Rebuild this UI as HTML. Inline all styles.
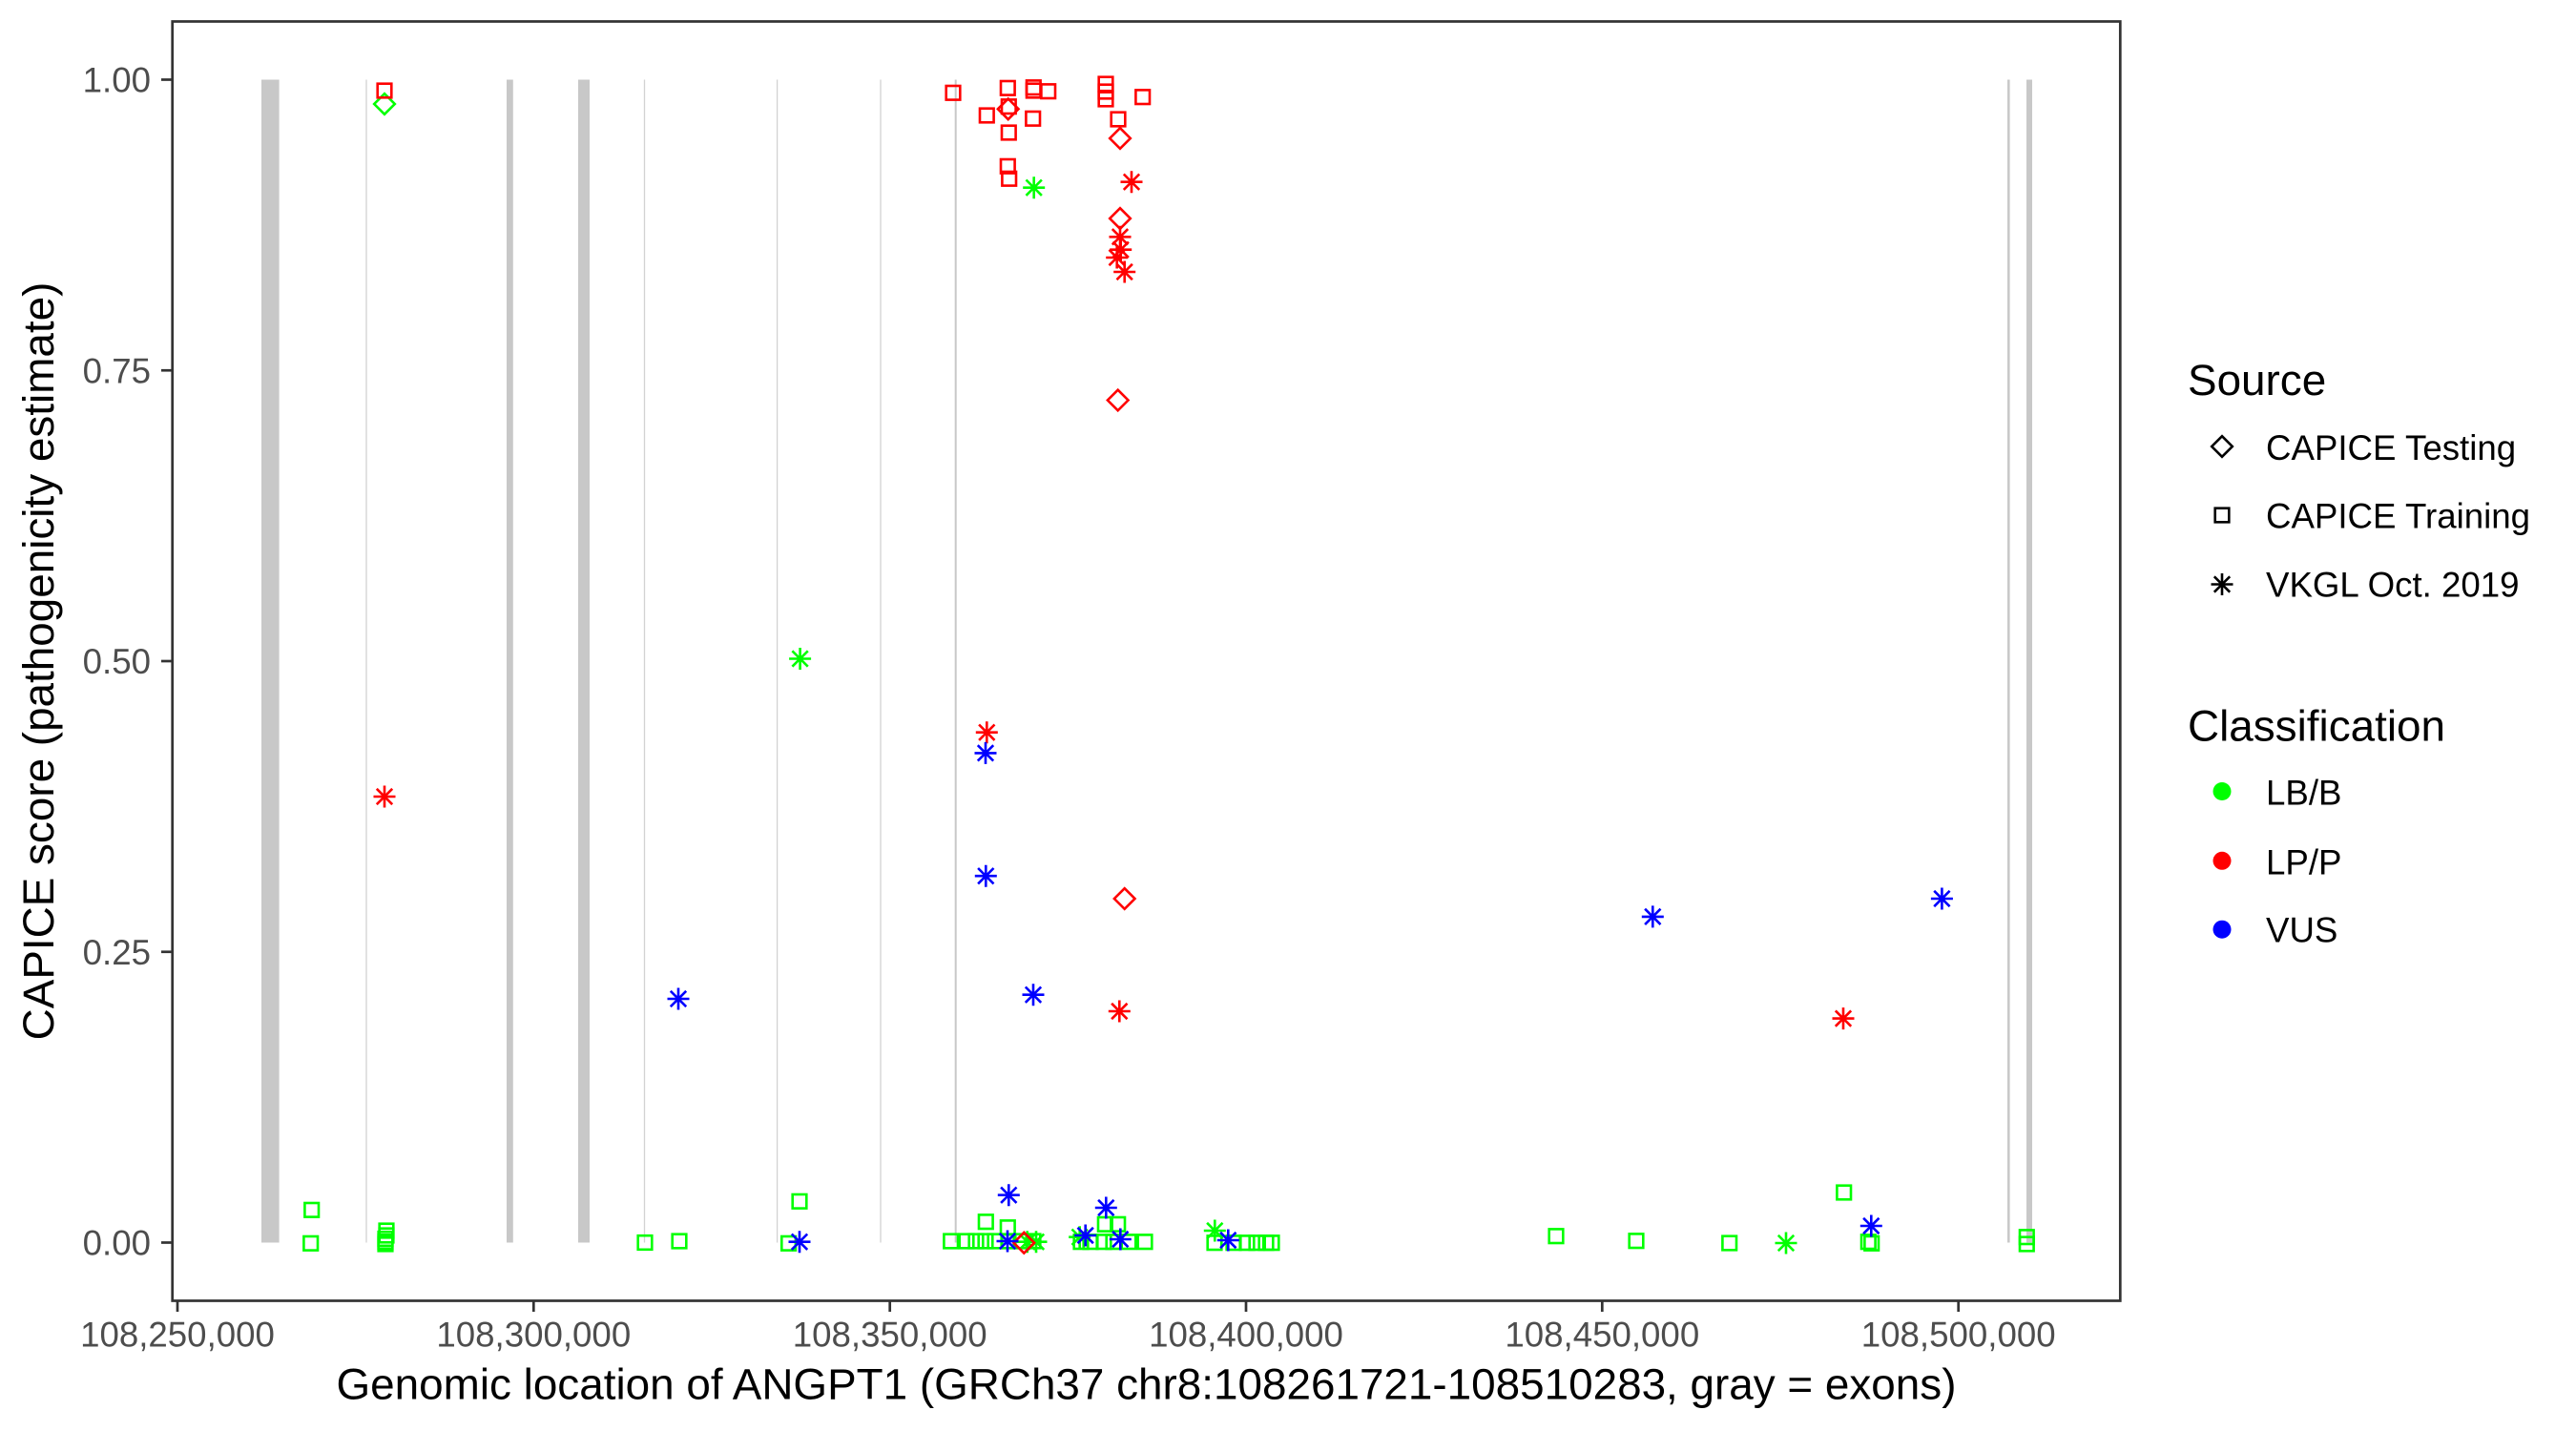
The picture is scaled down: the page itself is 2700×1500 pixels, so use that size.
<!DOCTYPE html>
<html><head><meta charset="utf-8"><style>
html,body{margin:0;padding:0;background:#fff;}
svg{display:block;font-family:"Liberation Sans",Arial,sans-serif;}
</style></head><body>
<svg width="2700" height="1500" viewBox="0 0 2700 1500" xmlns="http://www.w3.org/2000/svg">
<defs>
<rect id="sq" x="-7.3" y="-7.3" width="14.6" height="14.6"/>
<path id="di" d="M0,-10.8L10.8,0L0,10.8L-10.8,0Z"/>
<path id="as" d="M-11.5,0H11.5M0,-11.5V11.5M-8.2,-8.2L8.2,8.2M-8.2,8.2L8.2,-8.2"/>
</defs>
<rect width="2700" height="1500" fill="#fff"/>
<!-- exons -->
<g fill="#C8C8C8">
<rect x="274" y="83.5" width="18.6" height="1219"/>
<rect x="531" y="83.5" width="6.8" height="1219"/>
<rect x="606" y="83.5" width="12" height="1219"/>
<rect x="2124" y="83.5" width="6" height="1219"/>
</g>
<g stroke="#D2D2D2" stroke-width="1.3">
<line x1="384" y1="83.5" x2="384" y2="1302.5"/>
<line x1="675.5" y1="83.5" x2="675.5" y2="1302.5"/>
<line x1="814.6" y1="83.5" x2="814.6" y2="1302.5"/>
<line x1="923" y1="83.5" x2="923" y2="1302.5"/>
</g>
<line x1="1001.7" y1="83.5" x2="1001.7" y2="1302.5" stroke="#C8C8C8" stroke-width="2"/>
<line x1="2105.3" y1="83.5" x2="2105.3" y2="1302.5" stroke="#C9C9C9" stroke-width="2.6"/>

<!-- green points -->
<g fill="none" stroke="#00FF00" stroke-width="2.6">
<use href="#sq" x="326.7" y="1268.3"/><use href="#sq" x="325.7" y="1303.3"/>
<use href="#sq" x="405" y="1290"/><use href="#sq" x="405" y="1295"/><use href="#sq" x="404" y="1298.5"/><use href="#sq" x="404" y="1301.5"/><use href="#sq" x="404" y="1304"/>
<use href="#sq" x="676" y="1302.5"/><use href="#sq" x="712" y="1301"/>
<use href="#sq" x="838" y="1259.3"/><use href="#sq" x="826.6" y="1303.3"/>
<use href="#sq" x="1033.3" y="1280.7"/><use href="#sq" x="1056.3" y="1286.7"/>
<use href="#sq" x="996.7" y="1301"/><use href="#sq" x="1013" y="1301"/><use href="#sq" x="1023" y="1301"/><use href="#sq" x="1033" y="1301"/><use href="#sq" x="1043" y="1301"/><use href="#sq" x="1057" y="1301"/><use href="#sq" x="1070" y="1301"/><use href="#sq" x="1083" y="1301"/>
<use href="#sq" x="1158.3" y="1283.3"/><use href="#sq" x="1171.7" y="1283.3"/>
<use href="#sq" x="1133" y="1301.7"/><use href="#sq" x="1143" y="1301.7"/><use href="#sq" x="1157" y="1301.7"/><use href="#sq" x="1167" y="1301.7"/><use href="#sq" x="1183" y="1301.7"/><use href="#sq" x="1200" y="1301.7"/>
<use href="#sq" x="1273" y="1302.7"/><use href="#sq" x="1293" y="1302.7"/><use href="#sq" x="1307" y="1302.7"/><use href="#sq" x="1317" y="1302.7"/><use href="#sq" x="1327" y="1302.7"/><use href="#sq" x="1333" y="1302.7"/>
<use href="#sq" x="1631" y="1295.7"/><use href="#sq" x="1715" y="1300.7"/><use href="#sq" x="1812.7" y="1303"/><use href="#sq" x="1932.7" y="1250"/>
<use href="#sq" x="1958.3" y="1301.7"/><use href="#sq" x="1961.7" y="1303.3"/>
<use href="#sq" x="2124.3" y="1296.7"/><use href="#sq" x="2124.3" y="1304"/>
<use href="#as" x="838.6" y="690.5"/><use href="#as" x="1083.7" y="196.7"/><use href="#as" x="1076.7" y="1301.7"/><use href="#as" x="1086" y="1301.7"/><use href="#as" x="1131.7" y="1296.7"/><use href="#as" x="1273.3" y="1290"/><use href="#as" x="1872" y="1303"/>
<use href="#di" x="403" y="109"/>
</g>
<!-- red points -->
<g fill="none" stroke="#FF0000" stroke-width="2.6">
<use href="#sq" x="403" y="95"/><use href="#sq" x="999" y="97.3"/><use href="#sq" x="1056.3" y="92.3"/><use href="#sq" x="1083.3" y="91.7"/><use href="#sq" x="1083.3" y="95"/><use href="#sq" x="1098.7" y="95.7"/>
<use href="#sq" x="1034.3" y="121"/><use href="#sq" x="1057.3" y="111.7"/><use href="#sq" x="1082.7" y="124.3"/><use href="#sq" x="1057.3" y="139"/><use href="#sq" x="1056.3" y="174.3"/><use href="#sq" x="1057.7" y="187.3"/>
<use href="#sq" x="1159" y="88"/><use href="#sq" x="1159" y="96"/><use href="#sq" x="1159" y="104"/><use href="#sq" x="1197.7" y="101.7"/><use href="#sq" x="1172" y="125"/>
<use href="#di" x="1056.7" y="114.3"/><use href="#di" x="1174" y="145"/><use href="#di" x="1174" y="229"/><use href="#di" x="1171.7" y="419.5"/><use href="#di" x="1178.7" y="942"/><use href="#di" x="1073.3" y="1302.7"/>
<use href="#as" x="403" y="835"/><use href="#as" x="1186" y="190.7"/><use href="#as" x="1174" y="248.3"/><use href="#as" x="1174.7" y="261.7"/><use href="#as" x="1170.7" y="270"/><use href="#as" x="1178.7" y="285"/>
<use href="#as" x="1034.3" y="767.7"/><use href="#as" x="1173.3" y="1060"/><use href="#as" x="1932" y="1067.6"/>
</g>
<!-- blue points -->
<g fill="none" stroke="#0000FF" stroke-width="2.6">
<use href="#as" x="711" y="1047"/><use href="#as" x="838" y="1301.7"/><use href="#as" x="1057.3" y="1252.7"/><use href="#as" x="1056" y="1301"/>
<use href="#as" x="1159.3" y="1266"/><use href="#as" x="1137.7" y="1295"/><use href="#as" x="1174.3" y="1299"/><use href="#as" x="1287.3" y="1300"/>
<use href="#as" x="1033" y="789.4"/><use href="#as" x="1033.3" y="918.2"/><use href="#as" x="1083" y="1042.7"/>
<use href="#as" x="1732.3" y="960.9"/><use href="#as" x="2035.4" y="942"/><use href="#as" x="1961.3" y="1285"/>
</g>

<!-- panel border -->
<rect x="180.7" y="22.5" width="2041.6" height="1341" fill="none" stroke="#333333" stroke-width="2.7"/>
<!-- y ticks -->
<g stroke="#333333" stroke-width="2.7">
<line x1="169" y1="83.5" x2="180.7" y2="83.5"/>
<line x1="169" y1="388.25" x2="180.7" y2="388.25"/>
<line x1="169" y1="693" x2="180.7" y2="693"/>
<line x1="169" y1="997.75" x2="180.7" y2="997.75"/>
<line x1="169" y1="1302.5" x2="180.7" y2="1302.5"/>
<line x1="186" y1="1363.5" x2="186" y2="1375"/>
<line x1="559.3" y1="1363.5" x2="559.3" y2="1375"/>
<line x1="932.7" y1="1363.5" x2="932.7" y2="1375"/>
<line x1="1306" y1="1363.5" x2="1306" y2="1375"/>
<line x1="1679.3" y1="1363.5" x2="1679.3" y2="1375"/>
<line x1="2052.7" y1="1363.5" x2="2052.7" y2="1375"/>
</g>
<g font-size="36.67" fill="#4D4D4D" text-anchor="end">
<text x="158" y="96.7">1.00</text>
<text x="158" y="401.4">0.75</text>
<text x="158" y="706.2">0.50</text>
<text x="158" y="1010.9">0.25</text>
<text x="158" y="1315.7">0.00</text>
</g>
<g font-size="36.67" fill="#4D4D4D" text-anchor="middle">
<text x="186" y="1411.7">108,250,000</text>
<text x="559.3" y="1411.7">108,300,000</text>
<text x="932.7" y="1411.7">108,350,000</text>
<text x="1306" y="1411.7">108,400,000</text>
<text x="1679.3" y="1411.7">108,450,000</text>
<text x="2052.7" y="1411.7">108,500,000</text>
</g>
<text x="1201.5" y="1466.7" font-size="45.83" fill="#000" text-anchor="middle">Genomic location of ANGPT1 (GRCh37 chr8:108261721-108510283, gray = exons)</text>
<text transform="translate(56,693) rotate(-90)" font-size="45.83" fill="#000" text-anchor="middle">CAPICE score (pathogenicity estimate)</text>

<!-- legend -->
<text x="2293" y="414" font-size="45.83" fill="#000">Source</text>
<g fill="none" stroke="#000" stroke-width="2.6">
<use href="#di" x="2329" y="468"/>
<use href="#sq" x="2329" y="540"/>
<use href="#as" x="2329" y="612.5"/>
</g>
<g font-size="36.67" fill="#000">
<text x="2375" y="481.8">CAPICE Testing</text>
<text x="2375" y="553.7">CAPICE Training</text>
<text x="2375" y="625.7">VKGL Oct. 2019</text>
</g>
<text x="2293" y="776.7" font-size="45.83" fill="#000">Classification</text>
<circle cx="2329" cy="829.5" r="9.5" fill="#00FF00"/>
<circle cx="2329" cy="902.3" r="9.5" fill="#FF0000"/>
<circle cx="2329" cy="974.2" r="9.5" fill="#0000FF"/>
<g font-size="36.67" fill="#000">
<text x="2375" y="843.5">LB/B</text>
<text x="2375" y="916.3">LP/P</text>
<text x="2375" y="987.3">VUS</text>
</g>
</svg>
</body></html>
